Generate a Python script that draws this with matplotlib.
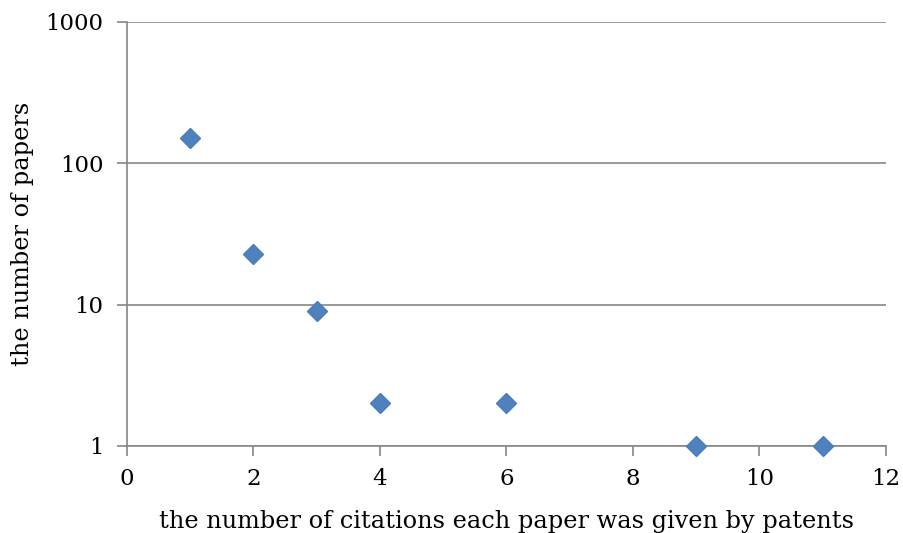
import matplotlib
matplotlib.use("Agg")
import matplotlib.pyplot as plt

x_vals = [1, 2, 3, 4, 6, 9, 11]
y_vals = [150, 23, 9, 2, 2, 1, 1]
x_ticks = [0, 2, 4, 6, 8, 10, 12]
y_ticks = [1, 10, 100, 1000]
y_tick_labels = ["1", "10", "100", "1000"]

plt.rcParams['font.family'] = ['DejaVu Serif']

fig = plt.figure(figsize=(9.04, 5.33), dpi=100)
ax = fig.add_axes([127/904, 1-446/533, (886-127)/904, (446-22)/533])

ax.set_yscale('log')
ax.set_xlim(0, 12)
ax.set_ylim(1, 1000)
gc = '#868686'
ax.grid(axis='y', which='major', color=gc, linewidth=1.2)
ax.set_axisbelow(True)
ax.plot(x_vals, y_vals, linestyle='none', marker='D', markersize=10.5,
        color='#4F81BD', markeredgecolor='#4A7EBB', zorder=3, clip_on=False)

for s in ['top', 'right']:
    ax.spines[s].set_visible(False)
for s in ['left', 'bottom']:
    ax.spines[s].set_color(gc)
    ax.spines[s].set_linewidth(1.2)

ax.set_xticks(x_ticks)
ax.set_xticklabels([str(t) for t in x_ticks])
ax.set_yticks(y_ticks)
ax.set_yticklabels(y_tick_labels)
ax.yaxis.set_minor_locator(matplotlib.ticker.NullLocator())
ax.tick_params(axis='both', which='major', direction='out', length=7, width=1.2,
               color=gc, labelsize=16.5, labelcolor='black')
ax.tick_params(axis='x', pad=9)
ax.tick_params(axis='y', pad=10)

ax.set_xlabel('the number of citations each paper was given by patents', fontsize=17.3, labelpad=14)
ax.set_ylabel('the number of papers', fontsize=17.3, labelpad=8)

fig.savefig('out.png', dpi=100)
